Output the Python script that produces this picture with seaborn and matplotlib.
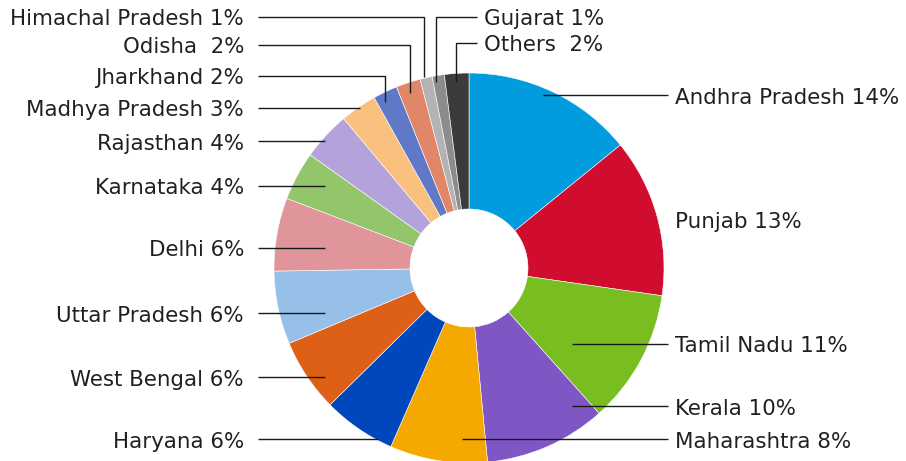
import matplotlib
matplotlib.use("Agg")
import matplotlib.pyplot as plt
import seaborn as sns

# ---- data ----
states = ["Andhra Pradesh", "Punjab", "Tamil Nadu", "Kerala", "Maharashtra",
          "Haryana", "West Bengal", "Uttar Pradesh", "Delhi", "Karnataka",
          "Rajasthan", "Madhya Pradesh", "Jharkhand", "Odisha",
          "Himachal Pradesh", "Gujarat", "Others"]
shares = [14, 13, 11, 10, 8, 6, 6, 6, 6, 4, 4, 3, 2, 2, 1, 1, 2]
label_texts = ["Andhra Pradesh 14%", "Punjab 13%", "Tamil Nadu 11%", "Kerala 10%",
               "Maharashtra 8%", "Haryana 6%", "West Bengal 6%", "Uttar Pradesh 6%",
               "Delhi 6%", "Karnataka 4%", "Rajasthan 4%", "Madhya Pradesh 3%",
               "Jharkhand 2%", "Odisha  2%", "Himachal Pradesh 1%", "Gujarat 1%",
               "Others  2%"]
colors = ["#009CDE", "#D00C2F", "#78BE20", "#7F57C5", "#F5A800", "#0047BB",
          "#DE6016", "#97C0E8", "#E0959A", "#93C66A", "#B3A3DA", "#F9C07E",
          "#6078C8", "#E2866A", "#B3B3B3", "#8C8C8C", "#3B3B3B"]

# ---- layout (pixel coords, y measured from top) ----
W, H = 906, 461
center_px = (469, 268)
radius_px = 195
hole_px = 59
leaders = {
    "Andhra Pradesh": ("R", [(668, 95), (543, 95)]),
    "Punjab": ("R", [(668, 219)]),
    "Tamil Nadu": ("R", [(668, 344), (572, 344)]),
    "Kerala": ("R", [(668, 406), (572, 406)]),
    "Maharashtra": ("R", [(668, 439), (462, 439)]),
    "Haryana": ("L", [(258, 439), (378, 439)]),
    "West Bengal": ("L", [(258, 377), (325, 377)]),
    "Uttar Pradesh": ("L", [(258, 313), (325, 313)]),
    "Delhi": ("L", [(258, 248), (325, 248)]),
    "Karnataka": ("L", [(258, 186), (325, 186)]),
    "Rajasthan": ("L", [(258, 141), (325, 141)]),
    "Madhya Pradesh": ("L", [(258, 108), (360, 108)]),
    "Jharkhand": ("L", [(258, 76), (385, 76), (385, 102)]),
    "Odisha": ("L", [(258, 45), (410, 45), (410, 93)]),
    "Himachal Pradesh": ("L", [(258, 17), (424, 17), (424, 77)]),
    "Gujarat": ("R", [(477, 17), (436, 17), (436, 82)]),
    "Others": ("R", [(477, 43), (456, 43), (456, 82)]),
}

sns.set_theme(style="white")
plt.rcParams["font.family"] = ["DejaVu Sans"]

fig = plt.figure(figsize=(W / 100, H / 100), dpi=100)
ax = fig.add_axes([0, 0, 1, 1])

def py(y):
    return H - y

palette = sns.color_palette(colors)
ax.pie(shares, colors=palette, startangle=90, counterclock=False,
       center=(center_px[0], py(center_px[1])), radius=radius_px, frame=True,
       wedgeprops=dict(width=radius_px - hole_px, edgecolor="white", linewidth=0.4))
ax.set_xlim(0, W)
ax.set_ylim(0, H)
ax.set_aspect("equal")
ax.axis("off")

txt_color = "#231F20"
fs = 15.4
for name, lab in zip(states, label_texts):
    side, pts = leaders[name]
    if len(pts) > 1:
        ax.plot([p[0] for p in pts], [py(p[1]) for p in pts], color="#1a1a1a",
                lw=1.0, solid_capstyle="butt", solid_joinstyle="miter")
    x0, y0 = pts[0]
    if side == "R":
        ax.text(x0 + 7, py(y0) - 8.5, lab, ha="left", va="baseline",
                fontsize=fs, color=txt_color)
    else:
        ax.text(x0 - 14, py(y0) - 8.5, lab, ha="right", va="baseline",
                fontsize=fs, color=txt_color)

fig.savefig("out.png", dpi=100)
